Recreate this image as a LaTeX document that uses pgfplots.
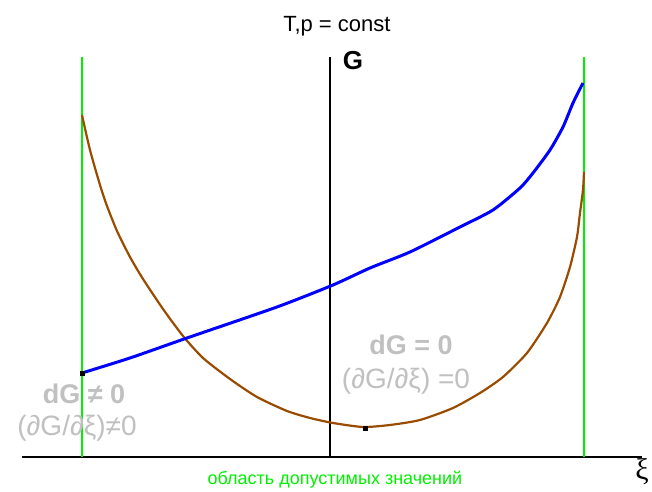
\documentclass[border=0pt]{standalone}
\usepackage{fontspec}
\setmainfont{Liberation Sans}
\newfontfamily\serifgr{Liberation Serif}
\usepackage{pgfplots}
\pgfplotsset{compat=1.18}
\definecolor{brownc}{RGB}{153,76,0}
\definecolor{greyt}{RGB}{192,192,192}
\definecolor{greenl}{RGB}{0,240,0}
\definecolor{bluel}{RGB}{0,0,255}

\begin{document}
\begin{tikzpicture}
\begin{axis}[
    scale only axis,
    width=652pt, height=489pt,
    xmin=0, xmax=652, ymin=0, ymax=489,
    hide axis,
    clip=false,
  ]
  % axes
  \addplot[black, line width=2pt] coordinates {(22,32)(642,32)};
  \addplot[black, line width=2pt] coordinates {(330,32)(330,432)};
  % bounds of the allowed region
  \addplot[greenl, line width=2pt] coordinates {(82,32)(82,432)};
  \addplot[greenl, line width=2pt] coordinates {(584,32)(584,432)};
  % G of the reacting system
  \addplot[brownc, line width=2.2pt, smooth, tension=0.4] coordinates {
    (82,374)(90,339)(100,304)(107,283)(117,258)(130,232)(143,210)
    (163,180)(183,153)(203,131)(230,110)(257,92)(287,78)(310,71)
    (333,66)(363,62)(390,64)(420,69)(453,81)(480,96)(503,112)
    (527,136)(547,166)(560,192)(570,222)(577,252)(580,276)(583,299)(584,317)
  };
  % blue curve
  \addplot[bluel, line width=3pt, smooth, tension=0.4] coordinates {
    (82,116)(130,131)(187,151)(277,182)(333,204)(370,221)(410,237)(460,262)
    (493,279)(520,301)(533,316)(550,339)(563,362)(573,386)(583,406)
  };
  \addplot[only marks, mark=square*, mark size=2pt, black] coordinates {(82,116)(365,61)};

  \node[font=\fontsize{22}{26}\selectfont] at (axis cs:337,463) {T,p = const};
  \node[font=\fontsize{26}{30}\selectfont\bfseries] at (axis cs:353,428) {G};
  \node[font=\fontsize{30}{34}\selectfont\serifgr] at (axis cs:642,17) {ξ};
  \node[font=\fontsize{18}{21}\selectfont, text=greenl] at (axis cs:335,9) {область допустимых значений};
  \node[font=\fontsize{27}{31}\selectfont\bfseries, text=greyt] at (axis cs:84,95) {dG ≠ 0};
  \node[font=\fontsize{28}{32}\selectfont, text=greyt] at (axis cs:77,61) {(∂G/∂ξ)≠0};
  \node[font=\fontsize{27}{31}\selectfont\bfseries, text=greyt] at (axis cs:411,144) {dG = 0};
  \node[font=\fontsize{28}{32}\selectfont, text=greyt] at (axis cs:406,108) {(∂G/∂ξ) =0};
\end{axis}
\path (current axis.south west) rectangle (current axis.north east);
\end{tikzpicture}
\end{document}
